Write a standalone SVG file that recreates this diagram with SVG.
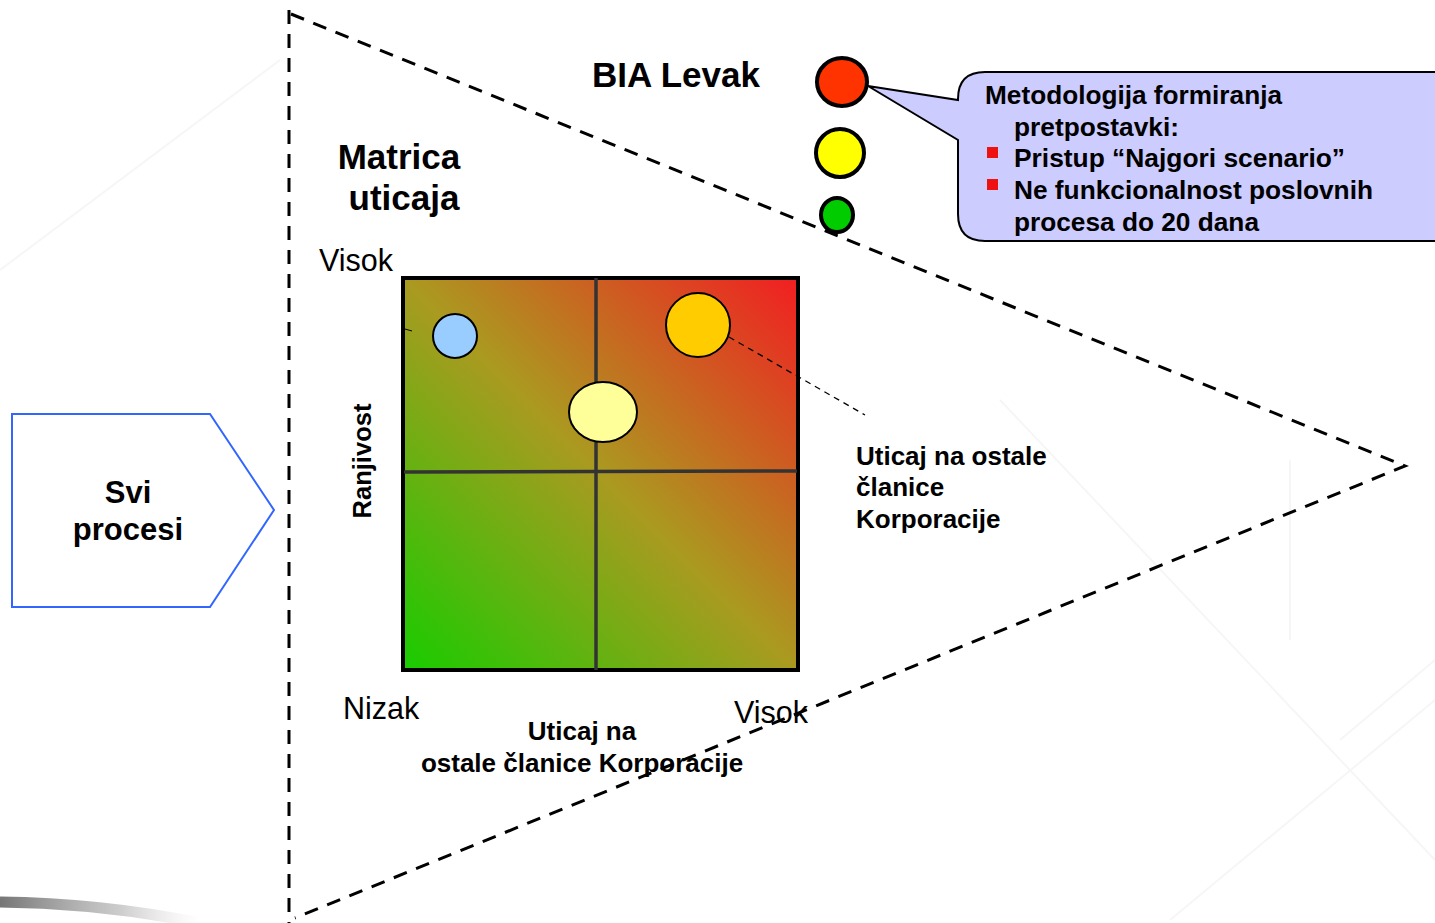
<svg xmlns="http://www.w3.org/2000/svg" width="1435" height="923" viewBox="0 0 1435 923">
<defs>
<style>
.b{font-family:"Liberation Sans",Arial,sans-serif;font-weight:bold;fill:#000}
.r{font-family:"Liberation Sans",Arial,sans-serif;fill:#000}
.dash{fill:none;stroke:#000;stroke-width:3;stroke-dasharray:14 10}
.grid{stroke:#333;stroke-width:3.5}
.dot{stroke:#000;stroke-width:2}
.light{stroke:#000;stroke-width:4}
</style>
<linearGradient id="heat" x1="0" y1="1" x2="1" y2="0">
<stop offset="0" stop-color="#18cc00"/>
<stop offset="0.5" stop-color="#aa9a20"/>
<stop offset="1" stop-color="#f21e22"/>
</linearGradient>
<linearGradient id="streak" x1="0" y1="0" x2="1" y2="0">
<stop offset="0" stop-color="#666" stop-opacity="0.9"/>
<stop offset="0.6" stop-color="#999" stop-opacity="0.5"/>
<stop offset="1" stop-color="#ccc" stop-opacity="0"/>
</linearGradient>
</defs>
<rect width="1435" height="923" fill="#fff"/>
<g id="background" fill="none" stroke="#f6f6f6" stroke-width="2">
<path d="M0 270 L280 60"/>
<path d="M1290 460 L1290 640"/>
<path d="M1340 740 L1435 660"/>
<path d="M1170 920 L1435 700"/>
<path d="M1000 400 L1435 860"/>
</g>
<path d="M0 902 Q100 903 200 923" fill="none" stroke="url(#streak)" stroke-width="11"/>

<g id="svi-procesi">
<path d="M12 414 L210 414 L274 510 L210 607 L12 607 Z" fill="#fff" stroke="#3366ff" stroke-width="2"/>
<text class="b" font-size="31" text-anchor="middle" x="128" y="503">Svi</text>
<text class="b" font-size="31" text-anchor="middle" x="128" y="540">procesi</text>
</g>

<g id="titles">
<text class="b" font-size="35" x="592" y="87">BIA Levak</text>
<text class="b" font-size="35" text-anchor="middle" x="399" y="169">Matrica</text>
<text class="b" font-size="35" text-anchor="middle" x="404" y="210">uticaja</text>
</g>

<g id="matrix">
<rect x="403" y="278" width="395" height="392" fill="url(#heat)" stroke="#000" stroke-width="4"/>
<line class="grid" x1="596" y1="278" x2="596" y2="670"/>
<line class="grid" x1="404" y1="472" x2="797" y2="471"/>
<circle class="dot" cx="455" cy="336" r="22" fill="#99ccff"/>
<circle class="dot" cx="698" cy="325" r="32" fill="#ffcc00"/>
<ellipse class="dot" cx="603" cy="412" rx="34" ry="30" fill="#ffff99"/>
</g>

<g id="connectors">
<path class="dash" d="M289 10 L289 923"/>
<path class="dash" d="M291 14 L1405 466 L295 918"/>
<path d="M729 337 L865 415" fill="none" stroke="#000" stroke-width="1.3" stroke-dasharray="6 5"/>
<path d="M405 329 L412 331" stroke="#000" stroke-width="1"/>
</g>

<g id="axis-labels">
<text class="r" font-size="30.5" x="319" y="271">Visok</text>
<text class="r" font-size="30.5" x="343" y="719">Nizak</text>
<text class="r" font-size="30.5" x="734" y="723">Visok</text>
<text class="b" font-size="25.5" text-anchor="middle" transform="translate(371 461) rotate(-90)">Ranjivost</text>
<text class="b" font-size="26" text-anchor="middle" x="582" y="740">Uticaj na</text>
<text class="b" font-size="26" text-anchor="middle" x="582" y="772">ostale članice Korporacije</text>
</g>

<g id="impact-label">
<text class="b" font-size="26" x="856" y="465">Uticaj na ostale</text>
<text class="b" font-size="26" x="856" y="496">članice</text>
<text class="b" font-size="26" x="856" y="528">Korporacije</text>
</g>

<g id="traffic-light">
<ellipse class="light" cx="842" cy="82" rx="25" ry="24" fill="#ff3300"/>
<circle class="light" cx="840" cy="153" r="24" fill="#ffff00"/>
<ellipse class="light" cx="837" cy="215" rx="16" ry="17" fill="#00cc00"/>
</g>

<g id="callout">
<path d="M985 72 L1460 72 L1460 241 L985 241 Q958 241 958 214 L958 140 L868 86 L958 100 L958 99 Q958 72 985 72 Z" fill="#ccccff" stroke="#000" stroke-width="2"/>
<g class="b" font-size="25">
<text x="985" y="104" textLength="297" lengthAdjust="spacingAndGlyphs">Metodologija formiranja</text>
<text x="1014" y="136" textLength="165" lengthAdjust="spacingAndGlyphs">pretpostavki:</text>
<text x="1014" y="167" textLength="331" lengthAdjust="spacingAndGlyphs">Pristup “Najgori scenario”</text>
<text x="1014" y="199" textLength="359" lengthAdjust="spacingAndGlyphs">Ne funkcionalnost poslovnih</text>
<text x="1014" y="231" textLength="245" lengthAdjust="spacingAndGlyphs">procesa do 20 dana</text>
</g>
<rect x="987" y="147" width="11" height="11" fill="#ee1111"/>
<rect x="987" y="179" width="11" height="11" fill="#ee1111"/>
</g>
</svg>
